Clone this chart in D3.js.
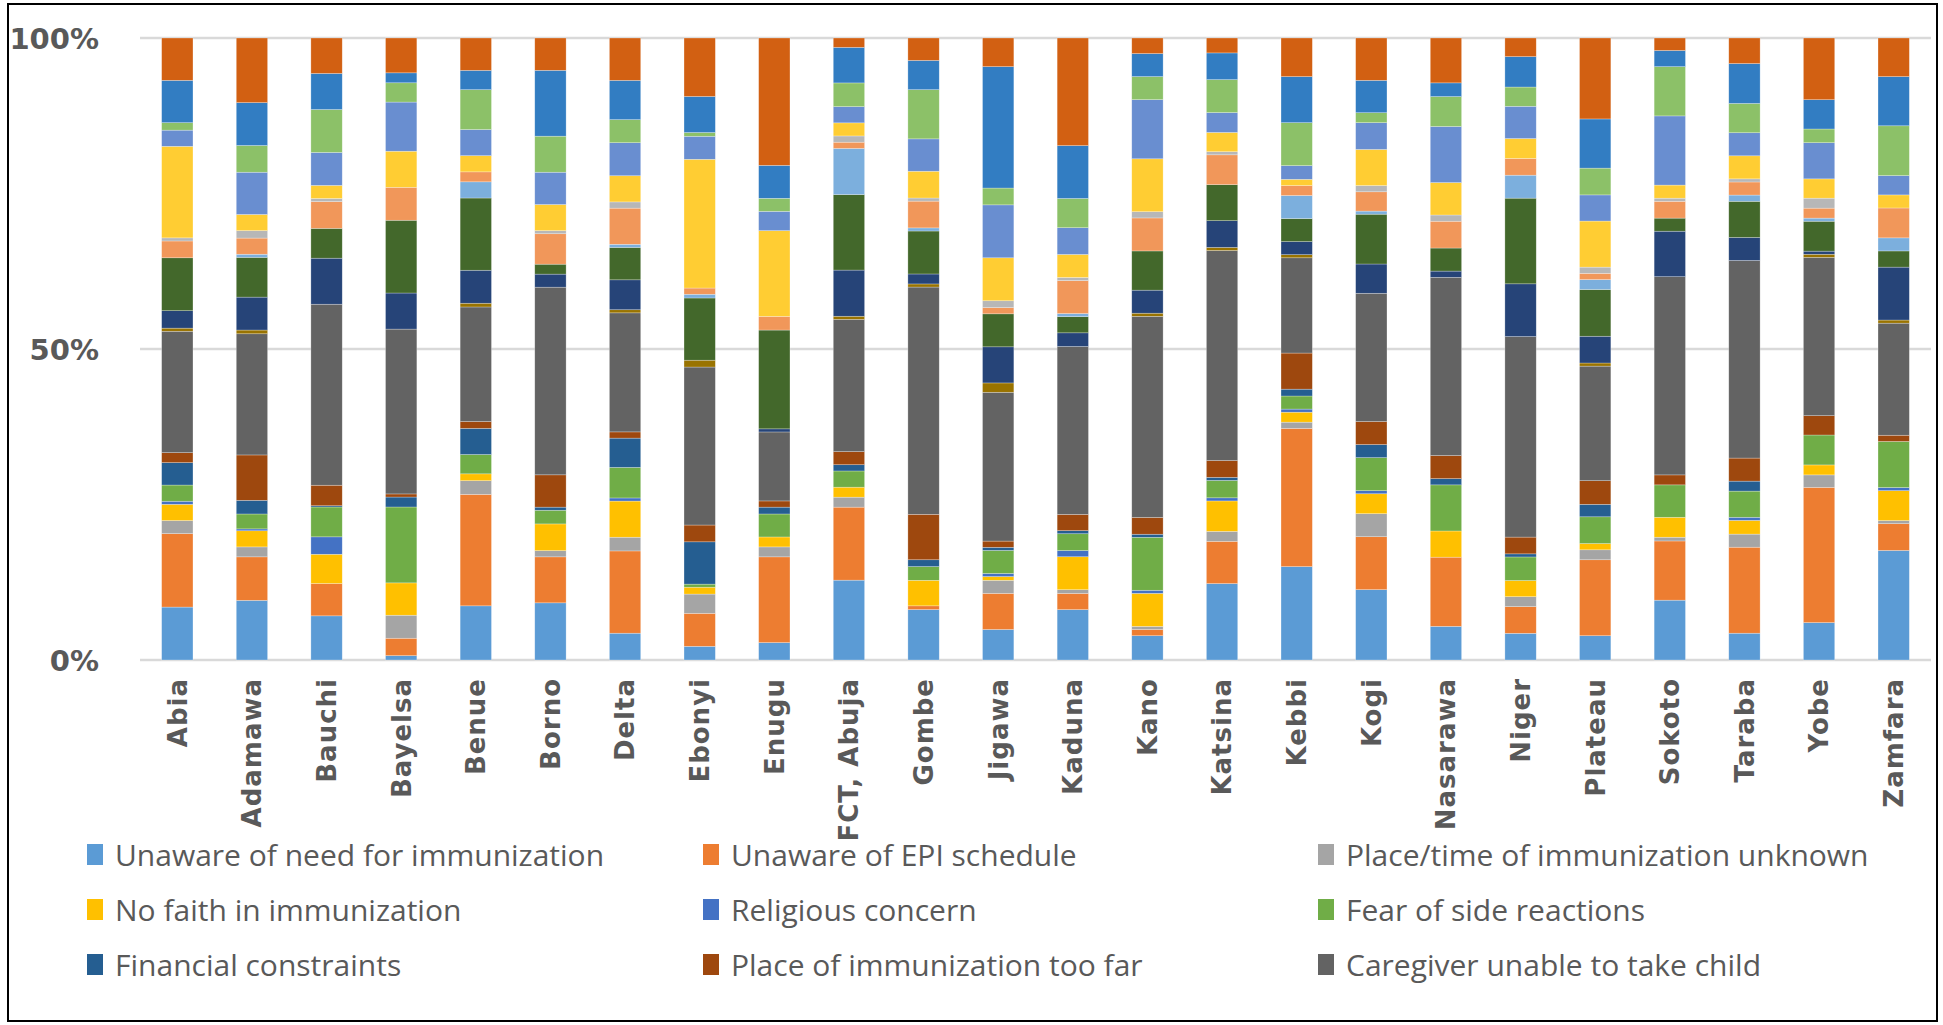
<!DOCTYPE html>
<html>
  <head>
    <title>Reasons for non-immunization by state</title>
    <meta charset="utf-8">
    <style>
    body { margin: 0; background: #fff; }
    text { fill: #595959; }
    .axis text { font-family: "DejaVu Sans", Verdana, sans-serif; font-weight: bold; }
    .legend text { font-family: "Open Sans", sans-serif; font-size: 30px; }
    .grid line { stroke: #d9d9d9; stroke-width: 2.5px; }
    </style>
  </head>
  <body>
    <script src="https://d3js.org/d3.v7.min.js"></script>
    <script>

    var states = ["Abia", "Adamawa", "Bauchi", "Bayelsa", "Benue", "Borno", "Delta", "Ebonyi",
      "Enugu", "FCT, Abuja", "Gombe", "Jigawa", "Kaduna", "Kano", "Katsina", "Kebbi", "Kogi",
      "Nasarawa", "Niger", "Plateau", "Sokoto", "Taraba", "Yobe", "Zamfara"];

    var yTicks = [0, 0.5, 1];

    // shares (%) per state, bottom segment first
    var unawareNeed     = [8.5, 9.6, 7.1, 0.7, 8.7, 9.2, 4.3, 2.2, 2.8, 12.8, 8.1, 4.9, 8.1, 3.9, 12.3, 15.0, 11.3, 5.4, 4.3, 3.9, 9.6, 4.3, 6.0, 17.6];
    var unawareSchedule = [11.8, 7.0, 5.2, 2.8, 17.9, 7.4, 13.2, 5.3, 13.8, 11.7, 0.6, 5.8, 2.6, 1.0, 6.8, 22.2, 8.5, 11.1, 4.3, 12.2, 9.5, 13.8, 21.7, 4.3];
    var placeUnknown    = [2.1, 1.6, 0, 3.7, 2.2, 1.0, 2.2, 3.1, 1.6, 1.6, 0, 2.1, 0.6, 0.5, 1.6, 1.0, 3.7, 0, 1.6, 1.6, 0.6, 2.1, 2.0, 0.5];
    var noFaith         = [2.6, 2.6, 4.7, 5.2, 1.1, 4.3, 5.8, 1.1, 1.6, 1.6, 4.1, 0.6, 5.3, 5.3, 4.9, 1.6, 3.2, 4.2, 2.6, 1.0, 3.2, 2.2, 1.6, 4.8];
    var religious       = [0.5, 0.3, 2.8, 0, 0, 0, 0.5, 0, 0, 0, 0, 0.5, 1.0, 0.5, 0.5, 0.5, 0.5, 0, 0, 0, 0, 0.5, 0, 0.5];
    var sideReactions   = [2.6, 2.4, 4.8, 12.2, 3.1, 2.2, 4.9, 0.5, 3.7, 2.6, 2.2, 3.7, 2.7, 8.5, 2.8, 2.1, 5.3, 7.4, 3.8, 4.3, 5.2, 4.2, 4.8, 7.4];
    var financial       = [3.6, 2.2, 0.2, 1.6, 4.2, 0.5, 4.7, 6.8, 1.1, 1.0, 1.1, 0.5, 0.5, 0.5, 0.5, 1.1, 2.1, 1.0, 0.5, 2.0, 0, 1.6, 0, 0];
    var tooFar          = [1.6, 7.3, 3.3, 0.5, 1.1, 5.2, 1.0, 2.7, 1.0, 2.1, 7.3, 1.0, 2.6, 2.7, 2.7, 5.8, 3.7, 3.7, 2.7, 3.8, 1.6, 3.7, 3.1, 1.0];
    var caregiverUnable = [19.5, 19.5, 29.1, 26.5, 18.4, 30.2, 19.1, 25.4, 11.1, 21.2, 36.5, 23.9, 27.0, 32.3, 33.8, 15.3, 20.6, 28.6, 32.3, 18.4, 31.8, 31.7, 25.4, 18.0];
    var childIll        = [0.5, 0.6, 0, 0, 0.6, 0, 0.5, 1.1, 0, 0.5, 0.5, 1.5, 0, 0.5, 0.5, 0.5, 0, 0, 0, 0.5, 0, 0, 0.5, 0.5];
    var waitingTime     = [2.8, 5.3, 7.4, 5.8, 5.3, 2.1, 4.8, 0, 0.5, 7.4, 1.6, 5.8, 2.2, 3.7, 4.3, 2.1, 4.7, 1.0, 8.5, 4.3, 7.3, 3.7, 0.5, 8.5];
    var vaccinatorAbsent = [8.5, 6.4, 4.8, 11.7, 11.6, 1.6, 5.2, 10.0, 15.9, 12.1, 6.9, 5.3, 2.6, 6.3, 5.8, 3.7, 8.0, 3.7, 13.8, 7.5, 2.1, 5.8, 4.8, 2.6];
    var vaccineMissing  = [0, 0.5, 0, 0, 2.6, 0, 0.5, 0.6, 0, 7.4, 0.5, 0, 0.5, 0, 0, 3.7, 0.5, 0, 3.7, 1.6, 0, 1.0, 0.5, 2.1];
    var motherBusy      = [2.7, 2.6, 4.3, 5.3, 1.6, 4.9, 5.8, 1.0, 2.2, 1.0, 4.3, 1.0, 5.3, 5.3, 4.8, 1.6, 3.1, 4.3, 2.7, 1.0, 2.7, 2.1, 1.6, 4.8];
    var familyProblem   = [0.5, 1.2, 0.5, 0, 0, 0.5, 1.0, 0, 0, 1.0, 0.5, 1.1, 0.5, 1.0, 0.5, 0, 1.0, 1.0, 0, 1.0, 0.5, 0.5, 1.6, 0];
    var illNotGiven     = [14.7, 2.6, 2.1, 5.8, 2.6, 4.2, 4.2, 20.7, 13.8, 2.1, 4.3, 6.9, 3.7, 8.5, 3.1, 1.0, 5.8, 5.2, 3.2, 7.4, 2.1, 3.7, 3.1, 2.1];
    var rumours         = [2.6, 6.8, 5.3, 7.9, 4.2, 5.2, 5.3, 3.7, 3.1, 2.6, 5.2, 8.5, 4.3, 9.5, 3.2, 2.2, 4.3, 9.0, 5.2, 4.2, 11.1, 3.7, 5.8, 3.1];
    var postponed       = [1.2, 4.3, 6.9, 3.1, 6.4, 5.8, 3.7, 0.6, 2.1, 3.8, 7.9, 2.7, 4.7, 3.7, 5.3, 6.9, 1.6, 4.8, 3.1, 4.3, 7.9, 4.7, 2.2, 8.0];
    var timeInconvenient = [6.8, 6.9, 5.8, 1.6, 3.1, 10.6, 6.3, 5.8, 5.3, 5.7, 4.7, 19.5, 8.5, 3.7, 4.3, 7.4, 5.2, 2.2, 4.9, 7.9, 2.6, 6.4, 4.7, 7.9];
    var otherReason     = [6.8, 10.4, 5.7, 5.6, 5.2, 5.2, 6.8, 9.4, 20.5, 1.5, 3.6, 4.6, 17.3, 2.5, 2.4, 6.2, 6.8, 7.2, 3.0, 13.0, 2.0, 4.1, 9.9, 6.2];

    var reasons = ["Unaware of need for immunization", "Unaware of EPI schedule",
      "Place/time of immunization unknown", "No faith in immunization", "Religious concern",
      "Fear of side reactions", "Financial constraints", "Place of immunization too far",
      "Caregiver unable to take child", "Child ill - not brought", "Long waiting time",
      "Vaccinator absent", "Vaccine not available", "Mother too busy", "Family problem",
      "Child ill - brought but not given", "Rumours", "Postponed until another time",
      "Time of immunization inconvenient", "Other"];

    var seriesValues = [unawareNeed, unawareSchedule, placeUnknown, noFaith, religious,
      sideReactions, financial, tooFar, caregiverUnable, childIll, waitingTime,
      vaccinatorAbsent, vaccineMissing, motherBusy, familyProblem, illNotGiven, rumours,
      postponed, timeInconvenient, otherReason];

    var colors = ["#5B9BD5", "#ED7D31", "#A5A5A5", "#FFC000", "#4472C4", "#70AD47",
      "#255E91", "#9E480E", "#636363", "#997300", "#264478", "#43682B",
      "#7CAFDD", "#F1975A", "#B7B7B7", "#FFCD33", "#698ED0", "#8CC168",
      "#327DC2", "#D26012"];

    var legendCount = 9; // only the first nine entries fit in the legend box

    var width = 1943, height = 1025;
    var plot = {left: 140, right: 1931, top: 38, bottom: 660};

    var svg = d3.select("body").append("svg")
        .attr("width", width)
        .attr("height", height);

    // outer frame
    svg.append("rect")
        .attr("x", 8).attr("y", 4)
        .attr("width", 1929).attr("height", 1017)
        .attr("fill", "#fff")
        .attr("stroke", "#000")
        .attr("stroke-width", 2);

    var rows = states.map(function(s, i) {
      var row = {state: s};
      reasons.forEach(function(r, k) { row[r] = seriesValues[k][i]; });
      return row;
    });

    var stacked = d3.stack()
        .keys(reasons)
        .offset(d3.stackOffsetExpand)(rows);

    var x = d3.scaleBand()
        .domain(states)
        .range([plot.left, plot.right])
        .paddingInner(0.58)
        .paddingOuter(0.29);

    var y = d3.scaleLinear()
        .domain([0, 1])
        .range([plot.bottom, plot.top]);

    var color = d3.scaleOrdinal().domain(reasons).range(colors);

    svg.append("g")
        .attr("class", "grid")
      .selectAll("line")
      .data(yTicks)
      .enter().append("line")
        .attr("x1", plot.left)
        .attr("x2", plot.right)
        .attr("y1", function(d) { return y(d); })
        .attr("y2", function(d) { return y(d); });

    svg.append("g")
        .selectAll("g")
        .data(stacked)
        .enter().append("g")
          .attr("fill", function(d) { return color(d.key); })
        .selectAll("rect")
        .data(function(d) { return d; })
        .enter().append("rect")
          .attr("x", function(d) { return x(d.data.state); })
          .attr("y", function(d) { return y(d[1]); })
          .attr("width", x.bandwidth())
          .attr("height", function(d) { return y(d[0]) - y(d[1]); })
          .attr("stroke", "#fff")
          .attr("stroke-opacity", 0.45)
          .attr("stroke-width", 0.6);

    var yAxis = svg.append("g")
        .attr("class", "axis")
        .attr("transform", "translate(" + (plot.left - 38) + ",0)")
        .call(d3.axisLeft(y).tickValues(yTicks).tickFormat(d3.format(".0%")).tickSize(0));
    yAxis.select(".domain").remove();
    yAxis.selectAll("text")
        .attr("font-size", 29)
        .attr("dy", "0.36em");

    var xAxis = svg.append("g")
        .attr("class", "axis")
        .attr("transform", "translate(0," + plot.bottom + ")")
        .call(d3.axisBottom(x).tickSize(0));
    xAxis.select(".domain").remove();
    xAxis.selectAll("text")
        .attr("font-size", 26)
        .attr("letter-spacing", 1)
        .attr("text-anchor", "end")
        .attr("dx", "-18")
        .attr("dy", "0.36em")
        .attr("y", 0)
        .attr("transform", "rotate(-90)");

    var legendX = [87, 703, 1318];
    var legendY = [855, 910, 965];

    var legend = svg.append("g")
        .attr("class", "legend")
      .selectAll("g")
      .data(reasons.slice(0, legendCount))
      .enter().append("g")
        .attr("transform", function(d, i) {
          return "translate(" + legendX[i % 3] + "," + legendY[Math.floor(i / 3)] + ")";
        });

    legend.append("rect")
        .attr("x", 0)
        .attr("y", -11)
        .attr("width", 16)
        .attr("height", 21)
        .attr("fill", function(d) { return color(d); });

    legend.append("text")
        .attr("x", 28)
        .attr("y", 0)
        .attr("dy", "0.35em")
        .text(function(d) { return d; });

    </script>
  </body>
</html>
